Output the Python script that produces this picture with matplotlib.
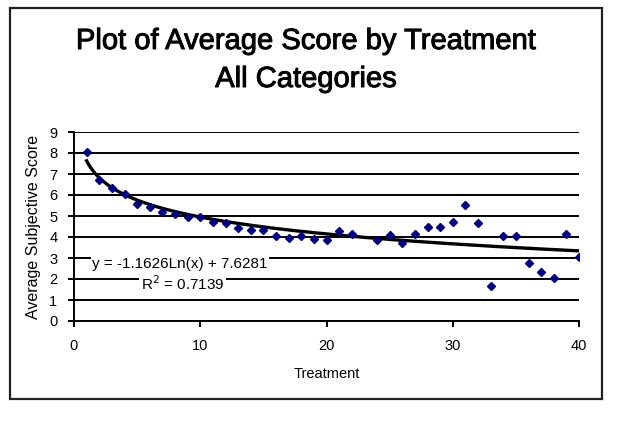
import numpy as np
import matplotlib
matplotlib.use("Agg")
import matplotlib.pyplot as plt
import matplotlib.patheffects as pe
from matplotlib.patches import Rectangle

plt.rcParams["font.family"] = ["Liberation Sans", "DejaVu Sans"]

treatment = [1, 2, 3, 4, 5, 6, 7, 8, 9, 10,
             11, 12, 13, 14, 15, 16, 17, 18, 19, 20,
             21, 22, 24, 25, 26, 27, 28, 29, 30,
             31, 32, 33, 34, 35, 36, 37, 38, 39, 40]
avg_score = [8.05, 6.72, 6.32, 6.07, 5.59, 5.43, 5.2, 5.08, 4.93, 4.97,
             4.7, 4.65, 4.45, 4.35, 4.35, 4.05, 3.95, 4.05, 3.9, 3.85,
             4.3, 4.15, 3.88, 4.1, 3.73, 4.13, 4.49, 4.49, 4.73,
             5.52, 4.68, 1.68, 4.03, 4.03, 2.75, 2.35, 2.03, 4.13, 3.03]

# log trendline coefficients as printed on the chart
slope = -1.1626
intercept = 7.6281
r2 = 0.7139

W, H = 640, 426
fig = plt.figure(figsize=(W / 100, H / 100), dpi=100)
fig.patch.set_facecolor("white")

# outer chart frame
fig.patches.append(Rectangle((10 / W, 1 - 399 / H), 592 / W, 391 / H,
                             transform=fig.transFigure, fill=False,
                             edgecolor="#222222", linewidth=1.6))

ax = fig.add_axes([74 / W, 1 - 321 / H, 505 / W, 189 / H])

x_fit = np.linspace(1, 40, 400)
ax.plot(x_fit, slope * np.log(x_fit) + intercept, color="black", linewidth=2.4, zorder=2)
ax.plot(treatment, avg_score, linestyle="none", marker="D", markersize=4.5,
        color="#000080", zorder=3)

ax.set_xlim(0, 40)
ax.set_ylim(0, 9)
ax.set_xticks([0, 10, 20, 30, 40])
ax.set_yticks(range(0, 10))
ax.yaxis.grid(True, color="black", linewidth=1.4)
ax.set_axisbelow(True)
for side in ["top", "right"]:
    ax.spines[side].set_visible(False)
for side in ["left", "bottom"]:
    ax.spines[side].set_linewidth(1.4)
ax.tick_params(direction="out", length=4, width=1.4, labelsize=10.5)
ax.tick_params(axis="x", pad=9)
ax.tick_params(axis="y", pad=8)
ax.set_xlabel("Treatment", fontsize=10.5, labelpad=10)
ax.set_ylabel("Average Subjective Score", fontsize=11.5, labelpad=6)

ax.text(8.4, 2.72, f"y = {slope}Ln(x) + {intercept}", fontsize=11, ha="center", va="center",
        bbox=dict(facecolor="white", edgecolor="none", pad=1), zorder=4)
ax.text(8.6, 1.78, f"R$^2$ = {r2}", fontsize=11, ha="center", va="center",
        bbox=dict(facecolor="white", edgecolor="none", pad=1), zorder=4)

# the reference title is rendered a little heavier than plain Arial
heavy = [pe.withStroke(linewidth=0.7, foreground="black")]
fig.text(306 / W, 1 - 41 / H, "Plot of Average Score by Treatment", fontsize=21,
         ha="center", va="center", path_effects=heavy)
fig.text(306 / W, 1 - 79 / H, "All Categories", fontsize=21, ha="center", va="center",
         path_effects=heavy)

fig.savefig("out.png", dpi=100)
